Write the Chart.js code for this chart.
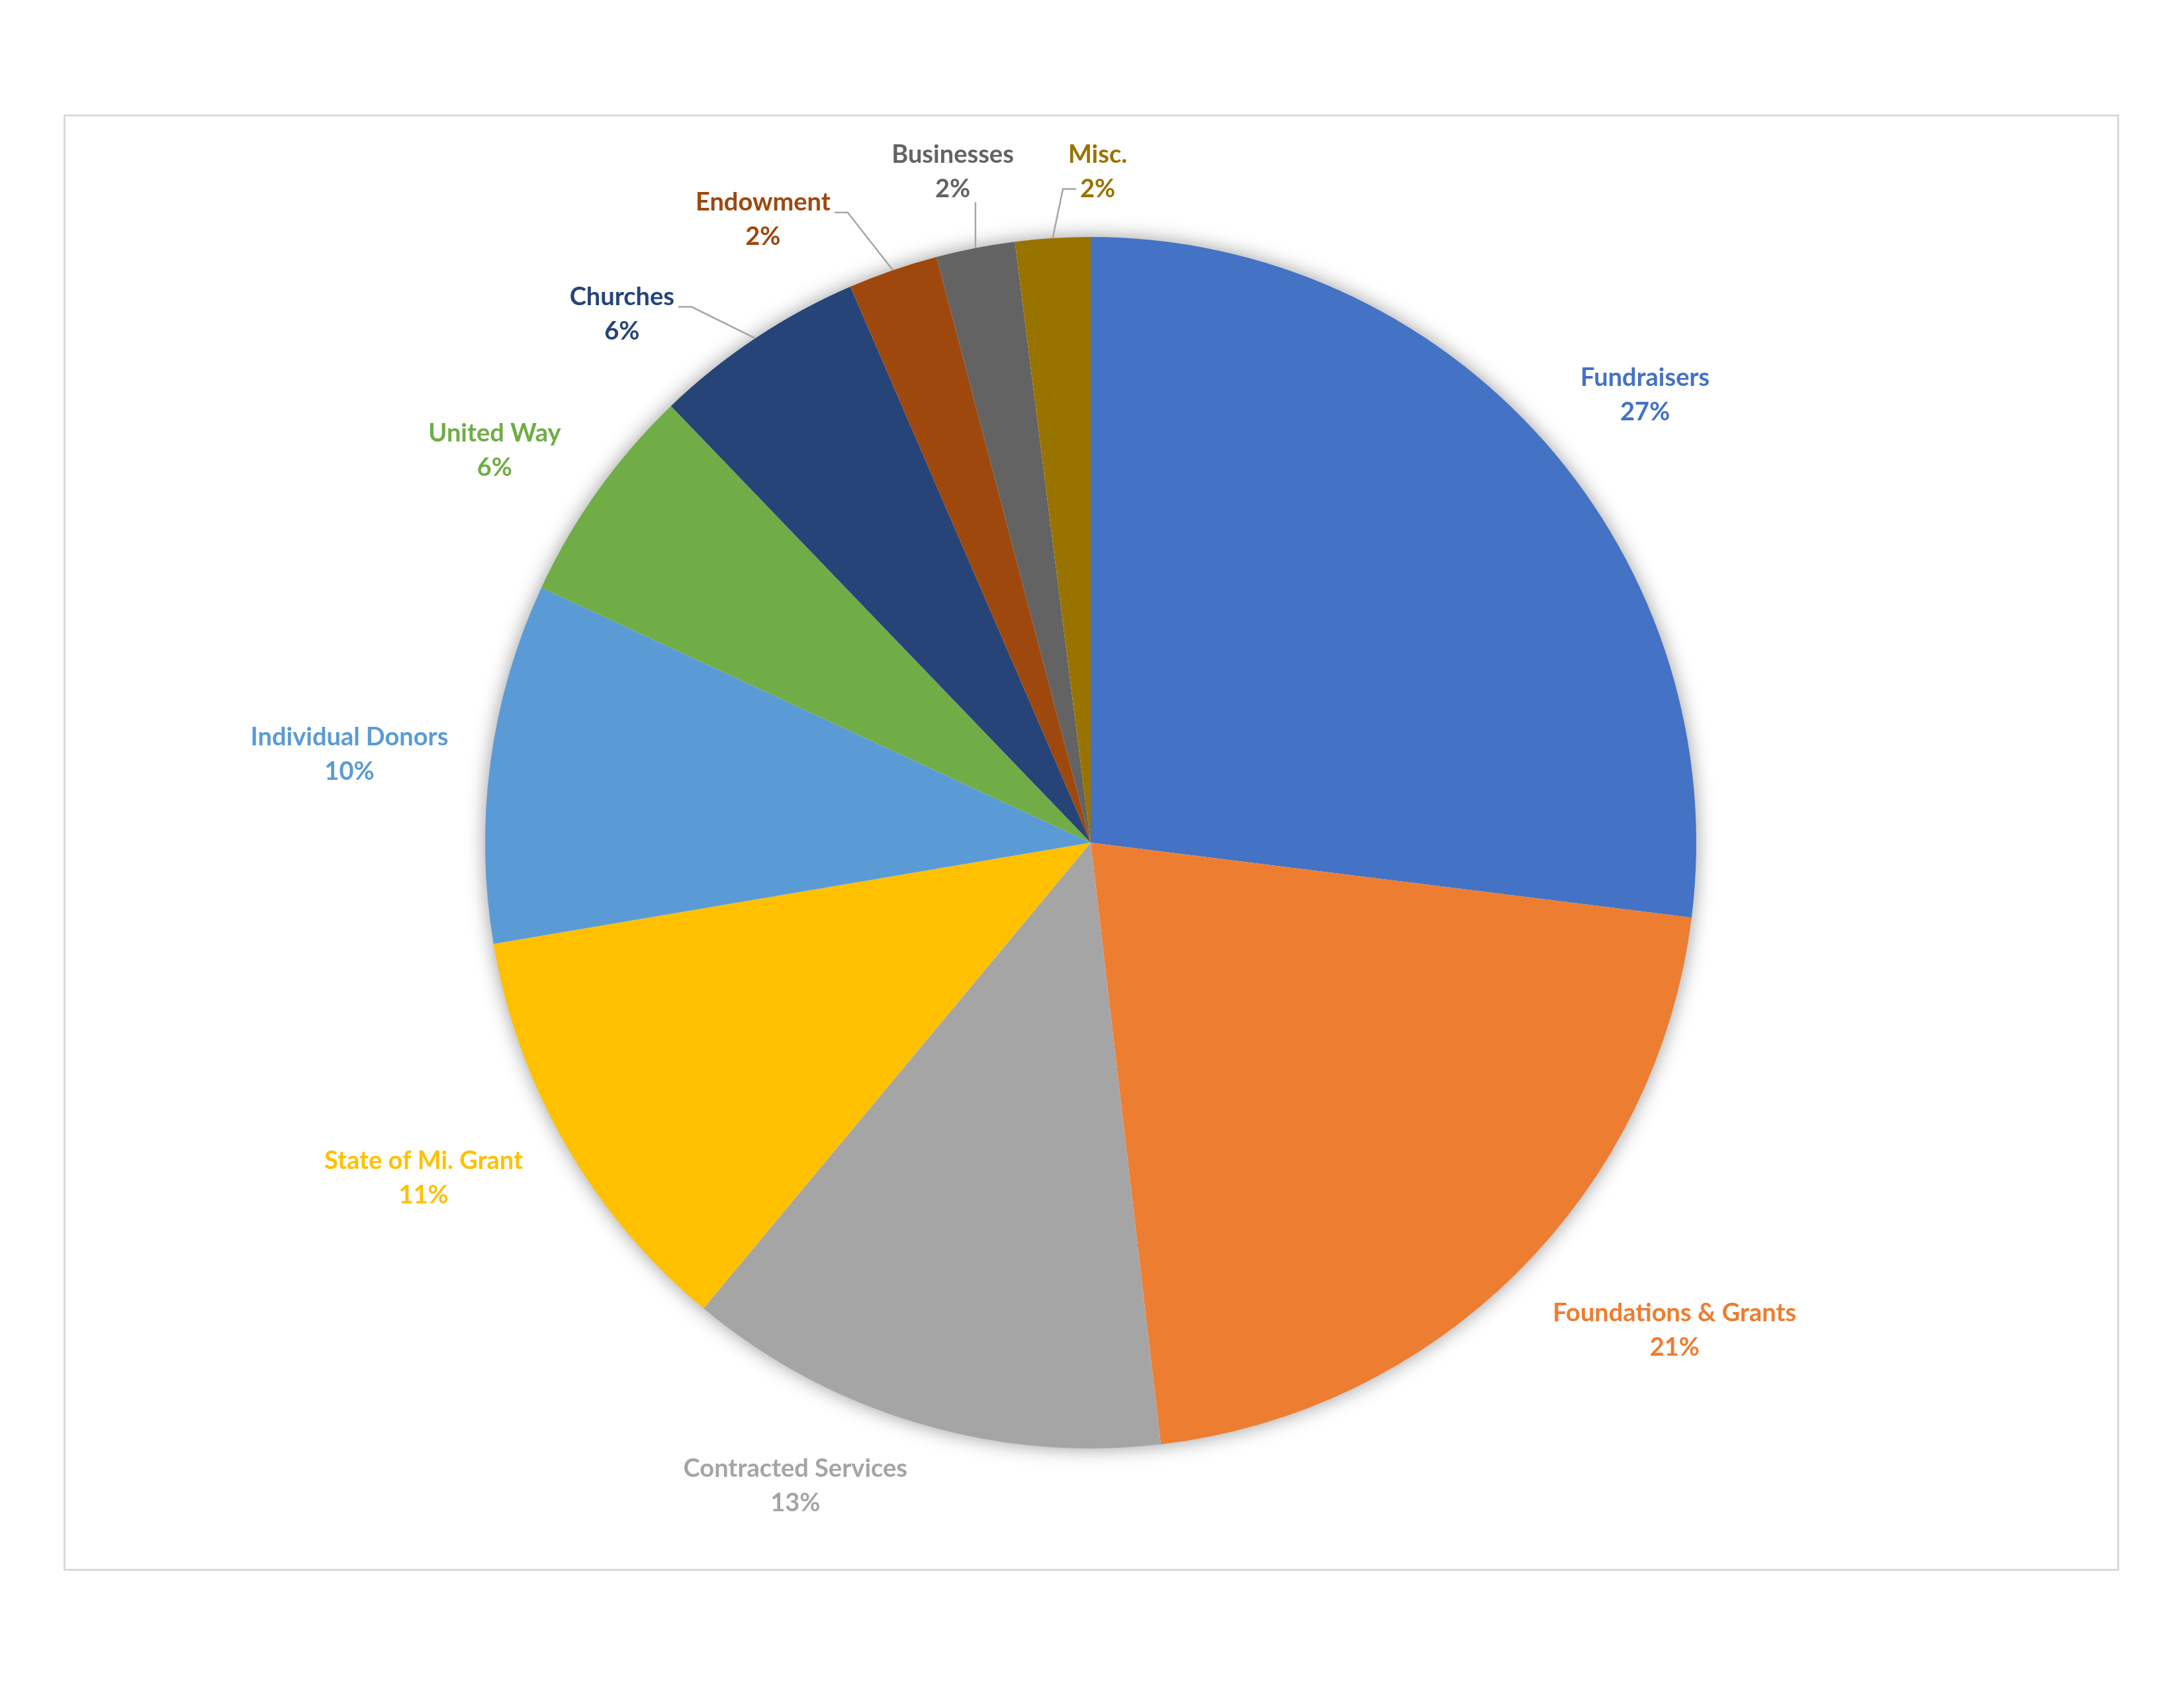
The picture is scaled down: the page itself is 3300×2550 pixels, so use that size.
<!DOCTYPE html>
<html>
<head>
<meta charset="utf-8">
<script src="https://cdn.jsdelivr.net/npm/chart.js@4.4.1/dist/chart.umd.min.js"></script>
<style>
    body { margin: 0; background: #ffffff; }
    #frame {
        position: absolute; left: 96px; top: 173px;
        width: 3106px; height: 2200px;
        box-sizing: border-box;
        border: 3px solid #d9d9d9;
    }
    #wrap { position: absolute; left: 0; top: 0; width: 3300px; height: 2550px; }
</style>
</head>
<body>
<div id="frame"></div>
<div id="wrap"><canvas id="myChart"></canvas></div>
<script>
// funding sources, share of total (%)
const categories = [
    'Fundraisers',
    'Foundations & Grants',
    'Contracted Services',
    'State of Mi. Grant',
    'Individual Donors',
    'United Way',
    'Churches',
    'Endowment',
    'Businesses',
    'Misc.'
]
const shares = [27.0, 21.2, 12.9, 11.3, 9.6, 5.9, 5.7, 2.4, 2.1, 2.0]
const sliceColors = [
    '#4472C4', '#ED7D31', '#A5A5A5', '#FFC000', '#5B9BD5',
    '#70AD47', '#264478', '#9E480E', '#636363', '#997300'
]

//*** label placement: [angle clockwise from top in degrees, distance / radius], leader line side
const labelSpots = [
    [51.0, 1.178], [129.8, 1.255], [204.7, 1.167], [243.4, 1.232], [276.9, 1.233],
    [303.4, 1.179], [318.5, 1.168], [332.3, 1.164], [348.4, 1.133], [0.6, 1.11]
]
const leaderSide = [null, null, null, null, null, null, 'right', 'right', 'bottom', 'left2']

const pieShadow = {
    id: 'pieShadow',
    beforeDatasetsDraw(chart) {
        const arc = chart.getDatasetMeta(0).data[0]
        const c = chart.ctx
        c.save()
        c.shadowColor = 'rgba(0, 0, 0, 0.42)'
        c.shadowBlur = 30
        c.fillStyle = '#ffffff'
        c.beginPath()
        c.arc(arc.x, arc.y, arc.outerRadius - 1, 0, Math.PI * 2)
        c.fill()
        c.restore()
    }
}

const outsideLabels = {
    id: 'outsideLabels',
    afterDatasetsDraw(chart) {
        const meta = chart.getDatasetMeta(0)
        const c = chart.ctx
        const total = shares.reduce((a, b) => a + b, 0)
        const lineH = 52
        c.save()
        c.font = 'bold 38px Lato'
        c.textAlign = 'center'
        c.textBaseline = 'middle'
        meta.data.forEach((arc, i) => {
            const r = arc.outerRadius
            const a = labelSpots[i][0] * Math.PI / 180
            const cx = arc.x + Math.sin(a) * r * labelSpots[i][1]
            const cy = arc.y - Math.cos(a) * r * labelSpots[i][1] + 2
            const line1 = categories[i]
            const line2 = Math.round(shares[i] / total * 100) + '%'

            if (leaderSide[i]) {
                const mid = (arc.startAngle + arc.endAngle) / 2
                const px = arc.x + Math.cos(mid) * r
                const py = arc.y + Math.sin(mid) * r
                const w1 = c.measureText(line1).width
                const w2 = c.measureText(line2).width
                c.strokeStyle = '#a6a6a6'
                c.lineWidth = 2.5
                c.beginPath()
                if (leaderSide[i] === 'right') {
                    const sx = cx + Math.max(w1, w2) / 2 + 6
                    const sy = cy - 11
                    c.moveTo(sx, sy)
                    c.lineTo(sx + 20, sy)
                    c.lineTo(px, py)
                } else if (leaderSide[i] === 'bottom') {
                    const sx = Math.min(Math.max(px, cx - w2 / 2), cx + w2 / 2 + 14)
                    c.moveTo(sx, cy + lineH / 2 + 20)
                    c.lineTo(px, py)
                } else {
                    const sx = cx - w2 / 2 - 6
                    const sy = cy + lineH / 2
                    c.moveTo(sx, sy)
                    c.lineTo(sx - 20, sy)
                    c.lineTo(px, py)
                }
                c.stroke()
            }

            c.fillStyle = sliceColors[i]
            c.fillText(line1, cx, cy - lineH / 2)
            c.fillText(line2, cx, cy + lineH / 2)
        })
        c.restore()
    }
}

const ctx = document.getElementById('myChart')
new Chart(ctx, {
    type: 'pie',
    data: {
        labels: categories,
        datasets: [{
            data: shares,
            backgroundColor: sliceColors,
            borderWidth: 0,
            hoverOffset: 0
        }]
    },
    options: {
        responsive: true,
        maintainAspectRatio: false,
        devicePixelRatio: 1,
        animation: false,
        radius: 915,
        layout: {
            padding: { top: 300, bottom: 304, left: 300, right: 304 }
        },
        plugins: {
            legend: { display: false },
            tooltip: { enabled: false }
        }
    },
    plugins: [pieShadow, outsideLabels]
});
</script>
</body>
</html>
